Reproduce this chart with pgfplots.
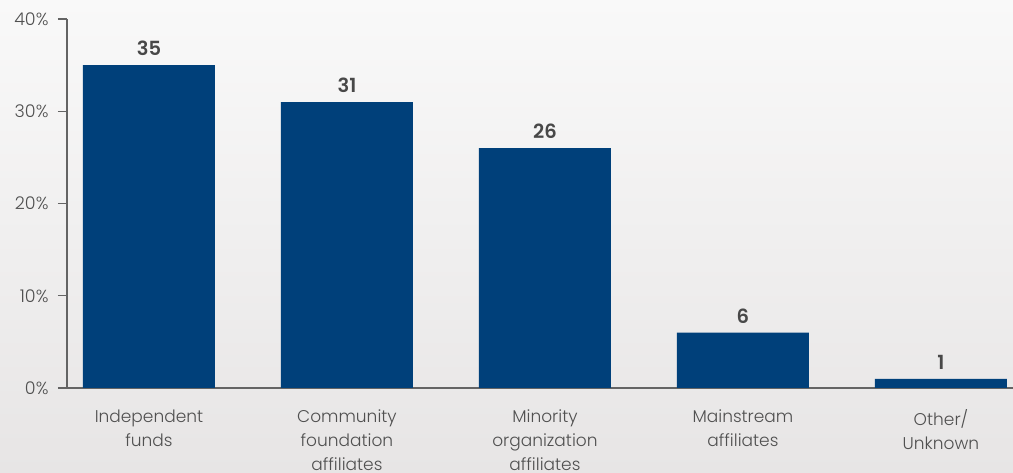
\documentclass[border=0pt]{standalone}
\usepackage{fontspec}
\setmainfont{Poppins}[UprightFont={* Light}, BoldFont={* SemiBold}]
\usepackage{pgfplots}
\pgfplotsset{compat=1.18}
\definecolor{barblue}{RGB}{0,64,122}
\definecolor{txtgray}{RGB}{80,80,80}
\definecolor{numgray}{RGB}{72,72,72}
\definecolor{axisgray}{RGB}{100,100,100}
\definecolor{bgtop}{RGB}{249,249,249}
\definecolor{bgbot}{RGB}{231,229,229}
\begin{document}
\begin{tikzpicture}
\shade[top color=bgtop, bottom color=bgbot] (0,0) rectangle (1013pt,473pt);
\path[use as bounding box] (0,0) rectangle (1013pt,473pt);
\begin{axis}[
    at={(67pt,85pt)}, anchor=south west,
    scale only axis, width=946pt, height=369pt,
    ybar, bar width=132pt,
    xmin=-0.414, xmax=4.364, ymin=0, ymax=40,
    axis x line=bottom, axis y line=left,
    axis line style={-, draw=axisgray, line width=1.4pt},
    xtick=data,
    xticklabels={{Independent\\funds},{Community\\foundation\\affiliates},
                 {Minority\\organization\\affiliates},{Mainstream\\affiliates},
                 {Other/\\Unknown}},
    x tick label style={align=center, font=\fontsize{17}{24}\selectfont,
                        text=txtgray, yshift=-9pt},
    xtick style={draw=none},
    ytick={0,10,20,30,40},
    yticklabel={\pgfmathprintnumber{\tick}\%},
    /pgf/number format/assume math mode=true,
    y tick label style={font=\fontsize{17.5}{18}\selectfont, text=txtgray, xshift=-6pt},
    ytick style={draw=axisgray, line width=1.2pt},
    tick align=outside, major tick length=9pt,
    nodes near coords,
    every node near coord/.append style={font=\fontsize{19.5}{20}\selectfont\bfseries,
                                         text=numgray, yshift=6pt},
  ]
\addplot[fill=barblue, draw=none] coordinates {(0,35)(1,31)(2,26)(3,6)(4,1)};
\end{axis}
\end{tikzpicture}
\end{document}
